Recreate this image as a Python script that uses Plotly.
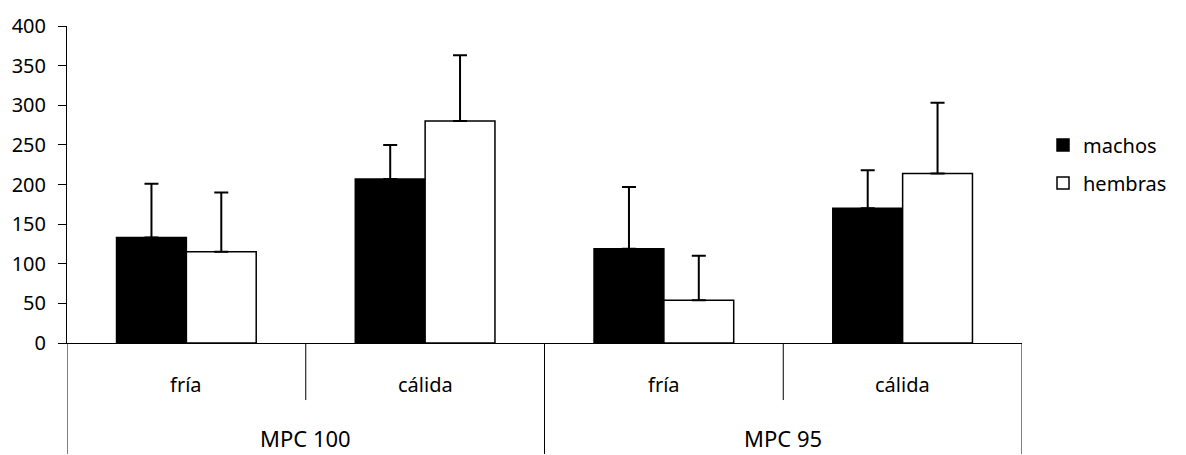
import plotly.graph_objects as go

# Two-level categories: treatment group / temperature
groups = ["MPC 100", "MPC 95"]
temps = ["fría", "cálida"]

# Mean values and upper standard deviations per series
machos = [133, 207, 119, 170]
hembras = [115, 280, 54, 214]
err_machos = [68, 43, 78, 48]
err_hembras = [75, 83, 56, 89]

y_ticks = [0, 50, 100, 150, 200, 250, 300, 350, 400]

FONT = "Noto Sans"
n_per_group = len(temps)
positions = list(range(len(groups) * n_per_group))

fig = go.Figure()
fig.add_trace(go.Bar(
    x=positions, y=machos, name="machos", legendgroup="m",
    marker=dict(color="black", line=dict(color="black", width=1.5)),
    error_y=dict(type="data", symmetric=False, array=err_machos,
                 arrayminus=[0] * len(err_machos),
                 color="black", thickness=2, width=7),
))
fig.add_trace(go.Bar(
    x=positions, y=hembras, name="hembras", legendgroup="h",
    marker=dict(color="white", line=dict(color="black", width=1.5)),
    error_y=dict(type="data", symmetric=False, array=err_hembras,
                 arrayminus=[0] * len(err_hembras),
                 color="black", thickness=2, width=7),
))

# Category dividers below the x axis: short ones between temperatures,
# long ones at group boundaries
shapes = []
for b in range(len(positions) + 1):
    xb = b - 0.5
    outer = (b % n_per_group == 0)
    shapes.append(dict(
        type="line", xref="x", yref="paper",
        x0=xb, x1=xb, y0=0, y1=-0.35 if outer else -0.18,
        line=dict(color="black", width=1),
    ))

annotations = []
for i, p in enumerate(positions):
    annotations.append(dict(
        x=p, y=-0.13, xref="x", yref="paper", text=temps[i % n_per_group],
        showarrow=False, yanchor="middle",
        font=dict(family=FONT, size=20, color="black"),
    ))
for g, name in enumerate(groups):
    center = sum(positions[g * n_per_group:(g + 1) * n_per_group]) / n_per_group
    annotations.append(dict(
        x=center, y=-0.30, xref="x", yref="paper", text=name,
        showarrow=False, yanchor="middle",
        font=dict(family=FONT, size=22, color="black"),
    ))

fig.update_layout(
    width=1186, height=455,
    margin=dict(l=64, r=164, t=20, b=112),
    paper_bgcolor="white", plot_bgcolor="white",
    barmode="group", bargap=0.415, bargroupgap=0,
    font=dict(family=FONT, size=20, color="black"),
    showlegend=True,
    legend=dict(
        x=1.022, y=0.565, xanchor="left", yanchor="middle",
        tracegroupgap=9, font=dict(family=FONT, size=20, color="black"),
        bgcolor="rgba(0,0,0,0)",
    ),
    xaxis=dict(
        range=[-0.5, len(positions) - 0.5], showticklabels=False,
        showline=True, linecolor="black", linewidth=1,
        showgrid=False, zeroline=False, ticks="",
    ),
    yaxis=dict(
        range=[0, 400], tickvals=y_ticks,
        showline=True, linecolor="black", linewidth=1,
        ticks="outside", ticklen=8, tickcolor="black", tickwidth=1,
        ticklabelstandoff=8,
        showgrid=False, zeroline=False,
        tickfont=dict(family=FONT, size=20, color="black"),
    ),
    shapes=shapes,
    annotations=annotations,
)

fig.write_html("out.html")
